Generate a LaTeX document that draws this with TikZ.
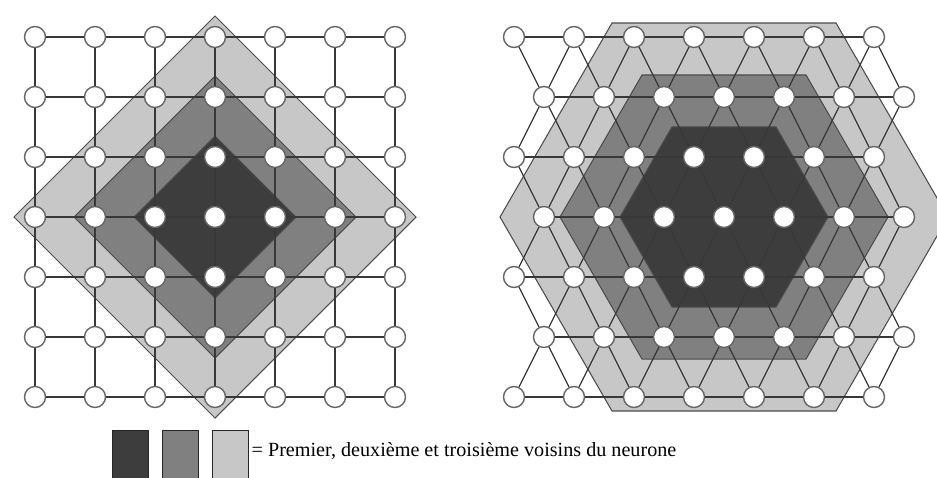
\documentclass[tikz,border=0pt]{standalone}
\usepackage{fontspec}
\setmainfont{Liberation Serif}
\usepackage{tikz}
\usetikzlibrary{positioning}
\usetikzlibrary{calc}
\usetikzlibrary{backgrounds}
\tikzset{every picture/.style={line width=1.1pt}}
\tikzset{neuron/.style={circle,draw=black!60,fill=white,minimum size=0.63cm,inner sep=0pt,line width=1.2pt}}
\tikzset{synapse/.style={draw=black!78,line width=1.05pt}}
\tikzset{zone/.style={draw=black!70,line width=0.9pt}}
\tikzset{legendbox/.style={draw=black!85,line width=0.9pt,minimum width=1.08cm,minimum height=1.5cm,inner sep=0pt}}

\begin{document}
\begin{tikzpicture}[x=0.03cm, y=-0.03cm]
\useasboundingbox (0,0) rectangle (937,477);
\clip (0,0) rectangle (937,477);

\foreach \i in {0,...,6} {
\foreach \j in {0,...,6} {
\node (s\i\j) at (35+60*\i, 37+60*\j) [neuron] {};
\node (h\i\j) at ({514+30*mod(\j,2)+60*\i}, {37+60*\j}) [neuron] {};
}}

\foreach \i in {0,...,6} {
\foreach \j in {0,...,5} {
\pgfmathtruncatemacro{\k}{\j+1}
\draw[synapse] (s\i\j) -- (s\i\k);
\draw[synapse] (s\j\i) -- (s\k\i);
\draw[synapse] (h\j\i) -- (h\k\i);
}}

\foreach \j in {0,...,5} {
\foreach \i in {0,...,6} {
\pgfmathtruncatemacro{\k}{\j+1}
\pgfmathtruncatemacro{\m}{\i-1+2*mod(\j,2)}
\draw[synapse] (h\i\j) -- (h\i\k);
\ifnum\m>-1 \ifnum\m<7 \draw[synapse] (h\i\j) -- (h\m\k); \fi\fi
}}

\begin{scope}[on background layer]
\clip (0,0) rectangle (937,477);
\foreach \r/\c in {201/black!22, 141/black!50, 81/black!76} {
\filldraw[zone, fill=\c, shift={(s33)}] (-\r,0) -- (0,-\r) -- (\r,0) -- (0,\r) -- cycle;
}
\foreach \r/\c in {224/black!22, 164/black!50, 104/black!76} {
\filldraw[zone, fill=\c, shift={(h33)}] (0:\r) -- (60:\r) -- (120:\r) -- (180:\r) -- (240:\r) -- (300:\r) -- cycle;
}
\end{scope}

\node (leg1) at (112,430) [legendbox, anchor=north west, fill=black!76] {};
\node (leg2) [legendbox, fill=black!50, right=0.39cm of leg1] {};
\node (leg3) [legendbox, fill=black!22, right=0.39cm of leg2] {};
\node (legtxt) at (251,456) [anchor=base west, inner sep=0pt, font=\fontsize{17.2}{20}\selectfont] {= Premier, deuxième et troisième voisins du neurone};

\end{tikzpicture}
\end{document}
